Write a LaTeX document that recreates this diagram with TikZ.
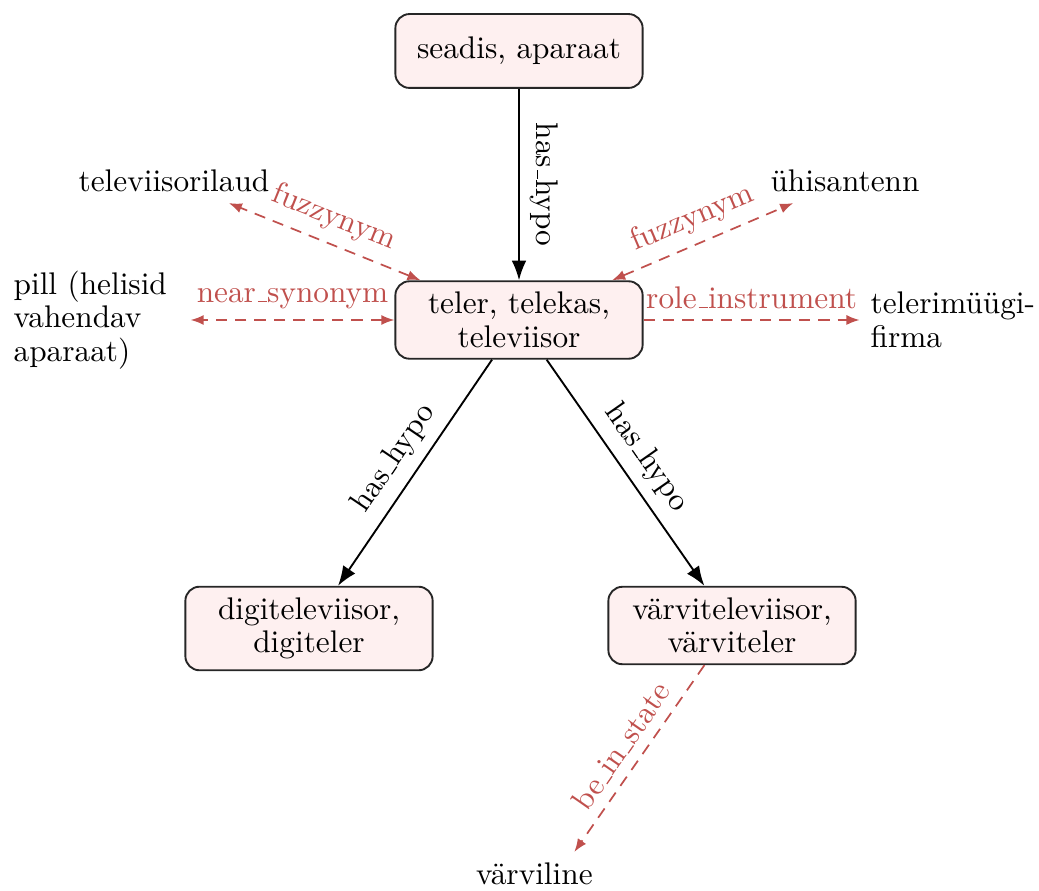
\documentclass[tikz,border=0pt]{standalone}
\usetikzlibrary{arrows.meta}
\definecolor{relred}{RGB}{192,80,77}
\definecolor{boxfill}{RGB}{254,240,240}
\newcommand{\usc}{\leavevmode\kern.06em\vbox{\hrule width.3em}}
\begin{document}
\begin{tikzpicture}[x=0.3195pt,y=-0.3195pt,
  font=\fontsize{10}{10.7}\selectfont,
  synbox/.style={draw=black!85, fill=boxfill, rounded corners=4.5pt, line width=0.6pt,
    text width=72pt, align=center, minimum height=23.6pt, inner sep=3.5pt},
  plain/.style={inner sep=3.33pt},
  plainw/.style={inner sep=3.33pt, text width=53pt, align=left},
  hypo/.style={-{Latex[length=6.3pt,width=4.7pt]}, line width=0.6pt, black},
  rel/.style={relred, line width=0.55pt, dash pattern=on 3.6pt off 2.6pt},
  reltwo/.style={rel, {Latex[length=4.2pt,width=3.2pt]}-{Latex[length=4.2pt,width=3.2pt]}},
  relone/.style={rel, -{Latex[length=4.2pt,width=3.2pt]}},
  lbl/.style={midway, above, sloped},
  rlbl/.style={midway, above, sloped, text=relred}
]
\useasboundingbox (0,0) rectangle (1039,891);

\node[synbox] (seadis) at (519,51) {seadis, aparaat};
\node[synbox] (teler) at (519,320) {teler, telekas,\\televiisor};
\node[synbox] (digi) at (309,628.5) {digiteleviisor,\\digiteler};
\node[synbox] (varvi) at (732,625.5) {värviteleviisor,\\värviteler};
\node[plain] (laud) at (174,181) {televiisorilaud};
\node[plain] (antenn) at (845,181) {ühisantenn};
\node[plainw, anchor=west] (pill) at (2.6,320) {pill (helisid\\vahendav\\aparaat)};
\node[plainw, anchor=west] (firma) at (859.6,320) {telerimüügi-\\firma};
\node[plainw, anchor=west] (varviline) at (465,874) {värviline};

\draw[hypo] (seadis) -- node[lbl]{has\usc hypo} (teler);
\draw[hypo] (teler) -- node[lbl]{has\usc hypo} (digi);
\draw[hypo] (teler) -- node[lbl]{has\usc hypo} (varvi);

\draw[reltwo] (teler) -- node[rlbl]{fuzzynym} (laud);
\draw[reltwo] (teler) -- node[rlbl]{fuzzynym} (antenn);
\draw[reltwo] (teler) -- node[rlbl]{near\usc synonym} (pill);
\draw[relone] (teler) -- node[rlbl]{role\usc instrument} (firma);
\draw[relone] (varvi) -- node[rlbl]{be\usc in\usc state} (varviline);
\end{tikzpicture}
\end{document}
